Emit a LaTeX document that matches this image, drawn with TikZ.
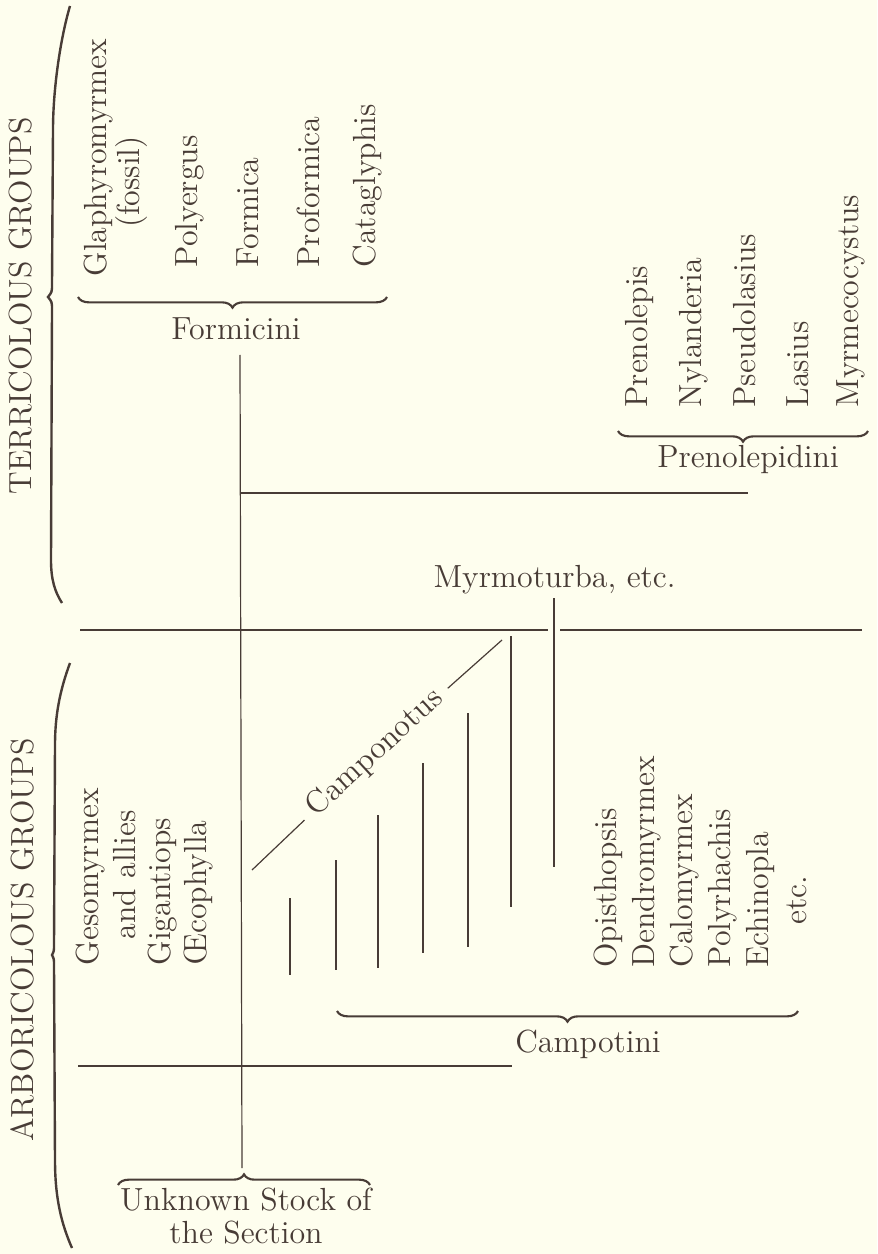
\documentclass[tikz,border=0pt]{standalone}
\usepackage{amsmath}
\usepackage{xcolor}
\usetikzlibrary{decorations.pathreplacing}
\definecolor{paper}{RGB}{254,254,238}
\definecolor{ink}{RGB}{72,60,54}

\begin{document}
\begin{tikzpicture}[x=0.375pt,y=-0.375pt,
		every node/.style={text=ink,font=\fontsize{12}{14}\selectfont,inner sep=0pt},
		genus/.style={rotate=90,anchor=base west},
		under/.style={rotate=90,anchor=base},
		stem/.style={draw=ink,line width=0.45pt},
		curly/.style={draw=ink,line width=0.8pt,decorate,decoration={brace,amplitude=4pt}},
		bigcurly/.style={draw=ink,line width=0.9pt}]
		\useasboundingbox[fill=paper] (0,0) rectangle (877,1254);
		%Groups
		\draw [bigcurly] (70,6) .. controls (60,40) and (53,90) .. (53,130) -- (52,284) .. controls (52,292) .. (48,297) .. controls (52,302) .. (52,310) -- (51,560) .. controls (51,580) and (55,592) .. (62,603);
		\draw [bigcurly] (70,663) .. controls (60,690) and (55,715) .. (55,745) -- (54,945) .. controls (54,951) .. (52,955) .. controls (54,959) .. (54,965) -- (55,1160) .. controls (55,1200) and (62,1225) .. (72,1248);
		\node [under] (terri) at (32,306) {TERRICOLOUS GROUPS};
		\node [under] (arbori) at (33,940) {ARBORICOLOUS GROUPS};
		%Formicini
		\node [genus] (glaph) at (106,277) {Glaphyromyrmex};
		\node [under] (fossil) at (139,182) {(fossil)};
		\node [genus] (polyergus) at (197,268) {Polyergus};
		\node [genus] (formica) at (258,268) {Formica};
		\node [genus] (proformica) at (319,268) {Proformica};
		\node [genus] (catag) at (375,268) {Cataglyphis};
		\draw [curly] (387,297) -- (78,297);
		\node [anchor=base] (formicini) at (236,340) {Formicini};
		%Prenolepidini
		\node [genus] (prenolepis) at (647,408) {Prenolepis};
		\node [genus] (nylanderia) at (701,408) {Nylanderia};
		\node [genus] (pseudolasius) at (755,408) {Pseudolasius};
		\node [genus] (lasius) at (808,408) {Lasius};
		\node [genus] (myrmeco) at (858,408) {Myrmecocystus};
		\draw [curly] (868,431) -- (618,431);
		\node [anchor=base] (prenolepidini) at (748,467) {Prenolepidini};
		%Stem
		\coordinate (trunkTop) at (240,355);
		\coordinate (stockTip) at (242,1168);
		\coordinate (prenoFork) at (240,493);
		\coordinate (prenoEnd) at (748,493);
		\draw [stem] (trunkTop) -- (stockTip);
		\draw [stem] (prenoFork) -- (prenoEnd);
		\draw [stem] (80,630) -- (548,630);
		\draw [stem] (560,630) -- (862,630);
		\draw [stem] (78,1066) -- (512,1066);
		%Myrmoturba
		\node [anchor=base west] (myrmo) at (433,587) {Myrmoturba, etc.};
		\coordinate (myrTop) at (554,598);
		\coordinate (myrBot) at (554,867);
		\draw [stem] (myrTop) -- (myrBot);
		%Camponotus
		\coordinate (campLo) at (252,870);
		\coordinate (campHi) at (502,640);
		\node [rotate=42.6,inner sep=3.8pt] (camp) at (375,753) {Camponotus};
		\draw [stem] (campLo) -- (camp);
		\draw [stem] (camp) -- (campHi);
		\foreach \x/\t/\b in {290/898/975, 336/860/970, 378/815/968, 423/763/953, 468/713/947, 511/636/907}
			\draw [stem] (\x,\t) -- (\x,\b);
		%Camponotini
		\node [genus] (opis) at (616,968) {Opisthopsis};
		\node [genus] (dendro) at (654,968) {Dendromyrmex};
		\node [genus] (calo) at (692,968) {Calomyrmex};
		\node [genus] (polyr) at (730,968) {Polyrhachis};
		\node [genus] (echin) at (768,968) {Echinopla};
		\node [under] (echinetc) at (806,900) {etc.};
		\draw [curly] (798,1011) -- (337,1011);
		\node [anchor=base] (campotini) at (588,1052) {Campotini};
		%Oecophyllini
		\node [genus] (geso) at (98,966) {Gesomyrmex};
		\node [under] (allies) at (135,875) {and allies};
		\node [genus] (giganti) at (170,966) {Gigantiops};
		\node [genus] (oeco) at (206,966) {\OE cophylla};
		%Stock
		\draw [curly] (118,1185) -- (370,1185);
		\node [anchor=base] (stockA) at (246,1210) {Unknown Stock of};
		\node [anchor=base] (stockB) at (246,1243) {the Section};
	\end{tikzpicture}
\end{document}
